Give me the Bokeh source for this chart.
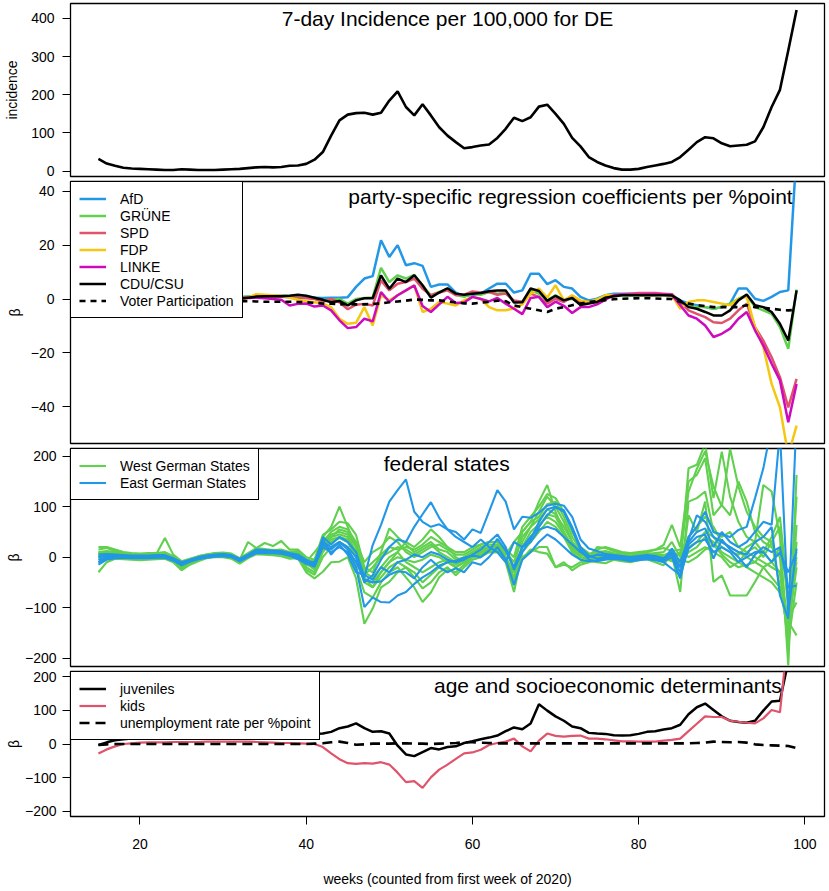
from bokeh.plotting import figure
from bokeh.models import Range1d, FixedTicker, Label, Legend, LegendItem
from bokeh.layouts import column
from bokeh.embed import file_html
from bokeh.resources import INLINE

FONT = "Liberation Sans"

# ---------------- data ----------------
weeks = list(range(15, 100))

incidence = [32, 20, 14, 9, 7, 6, 5, 4, 3, 3, 5, 4, 3, 3, 3, 4, 5, 6, 8, 10,
             11, 10, 11, 14, 15, 19, 30, 50, 93, 133, 148, 152, 153, 148, 153,
             185, 209, 168, 146, 175, 146, 115, 93, 76, 60, 63, 67, 70, 87, 111,
             140, 131, 141, 169, 174, 150, 124, 87, 65, 37, 24, 15, 8, 4, 4,
             6, 11, 15, 19, 24, 37, 56, 76, 89, 86, 73, 65, 67, 69, 78,
             115, 168, 213, 316, 422]

afd = [0.5, 0.3, 0.2, 0.1, 0.0, 0.2, 0.3, 0.1, 0.0, 0.2, 0.3, 0.2, 0.4, 0.5, 0.3,
       0.2, 0.4, 0.5, 0.8, 1.0, 1.2, 1.3, 1.2, 1.0, 0.8, 0.6, 0.5, 0.4, 0.5, 0.5,
       0.7, 4.5, 7.6, 8.5, 21.8, 15.6, 20.0, 12.5, 13.3, 12.3, 4.5, 5.4, 5.4, 2.4, 1.1,
       1.5, 2.0, 3.9, 5.7, 5.7, 2.4, 3.2, 9.4, 9.4, 5.5, 7.0, 4.5, 3.9, 0.8, -0.5,
       0.1, 1.4, 2.0, 2.0, 2.0, 2.0, 2.0, 1.8, 1.6, 1.4, -0.5, -1.7, -2.3, -3.0, -3.6,
       -3.0, -1.7, 3.9, 3.9, 0.1, -0.7, 0.8, 2.6, 3.2, 55]
gruene = [0.3, 0.2, 0.1, 0.0, 0.1, 0.2, 0.1, 0.0, 0.2, 0.3, 0.4, 0.3, 0.5, 0.6, 0.5,
          0.4, 0.6, 0.8, 0.9, 1.0, 1.1, 1.2, 1.2, 1.1, 1.0, 0.8, 0.5, -0.5, -0.3, 0.0,
          -1.7, 0.0, 0.4, 0.6, 11.6, 6.3, 8.8, 7.6, 9.0, 5.0, 1.4, 2.6, 3.8, 1.6, 0.8,
          2.0, 1.6, 2.6, 2.0, 2.4, -1.1, -1.1, 3.2, 2.0, -0.5, 1.4, -0.4, 0.1, -1.7, -1.5,
          -0.5, 0.7, 1.0, 1.4, 1.4, 1.4, 1.4, 1.5, 1.7, 1.7, -1.7, -2.3, -3.0, -3.0, -3.6,
          -3.0, -1.7, 0.1, 1.4, -3.0, -4.2, -5.5, -10.4, -18.5, 3.5]
spd = [0.2, 0.1, 0.0, -0.1, 0.0, 0.1, 0.2, 0.0, 0.1, 0.2, 0.3, 0.2, 0.4, 0.5, 0.4,
       0.3, 0.5, 0.6, 0.7, 0.8, 0.9, 0.9, 0.8, 0.7, 0.5, 0.3, 0.0, -1.0, 0.0, -1.2,
       -3.8, -2.1, -1.8, -2.4, 6.9, 3.2, 5.7, 6.3, 7.6, 3.8, 1.4, 2.4, 3.2, 1.4, 1.6,
       2.8, 2.4, 2.6, 1.6, 2.0, -0.5, -1.0, 2.0, 0.8, -1.7, 0.1, -1.1, 0.8, -1.1, -1.1,
       -0.5, 0.5, 1.0, 1.8, 2.0, 2.2, 2.2, 2.2, 2.0, 1.8, -1.1, -4.2, -5.5, -6.7, -8.6,
       -8.9, -7.3, -4.2, -1.7, -10.4, -15.4, -21.6, -29.0, -40.2, -29.6]
fdp = [0.0, -0.3, -0.5, -0.2, 0.0, 0.3, 0.5, 0.2, 0.0, 0.3, 0.5, 0.3, 0.6, 0.8, 0.4,
       0.2, 0.0, -0.2, 0.5, 1.8, 1.6, 1.4, 1.2, 0.5, -0.3, -0.8, -1.2, -1.7, -3.0, -7.3,
       -9.2, -8.8, -3.0, -9.8, 1.4, -0.5, 1.4, 3.2, 5.1, -4.8, -3.6, -1.1, -1.7, -2.4, -0.5,
       0.8, 0.1, -3.0, -4.2, -4.2, -3.5, -2.0, 2.0, 3.9, 0.5, 5.1, -0.5, 1.4, -0.5, -1.1,
       -0.2, 1.4, 1.5, 1.6, 1.6, 1.6, 1.5, 1.5, 1.5, 1.4, -3.6, -1.1, -0.5, -0.5, -1.1,
       -1.7, -2.3, 0.1, 0.8, -10.4, -17.8, -31.5, -40.2, -58, -47]
linke = [-0.2, -0.3, -0.2, 0.0, 0.1, 0.0, -0.2, -0.3, 0.0, 0.2, 0.0, -0.3, 0.2, 0.5, 0.3,
         0.0, 0.2, 0.3, 0.4, 0.5, 0.3, 0.0, -0.3, -2.4, -1.8, -1.7, -2.8, -2.4, -4.2, -7.9,
         -10.8, -10.4, -7.3, -8.3, 2.6, -1.1, 1.4, 3.2, 5.0, -2.6, -4.8, -2.0, 0.8, -1.5, -1.3,
         0.8, 0.0, -0.9, 0.4, -1.7, -3.6, -5.6, 0.4, 0.8, -3.0, -1.0, -2.5, -5.2, -3.0, -3.0,
         -2.0, -0.2, 1.4, 1.7, 1.7, 1.7, 1.8, 1.8, 1.7, 1.6, -2.3, -6.1, -7.3, -9.8, -14.1,
         -12.9, -11.0, -7.3, -4.8, -11.6, -17.2, -24.0, -30.2, -45.7, -31.5]
cdu = [0.0, 0.2, -0.2, 0.0, 0.3, 0.5, 0.3, 0.1, 0.2, 0.4, 0.3, 0.5, 0.7, 0.4, 0.2,
       0.0, 0.3, 0.1, 0.5, 0.9, 1.0, 1.0, 1.0, 1.2, 1.6, 1.2, 0.5, -0.3, -1.2, -0.7,
       -2.4, -0.5, 0.3, 0.3, 8.8, 3.8, 7.6, 6.3, 8.8, 5.1, 0.5, 2.4, 4.0, 2.0, 1.6,
       2.0, 2.2, 2.9, 3.2, 3.2, -1.3, -1.2, 3.9, 3.0, -0.7, 1.2, -0.5, 0.4, -2.2, -1.7,
       -1.1, 0.5, 1.0, 1.4, 1.4, 1.4, 1.4, 1.4, 1.4, 1.3, -0.5, -3.0, -3.6, -4.8, -6.1,
       -6.1, -4.2, -0.5, 1.7, -2.3, -3.0, -4.8, -9.2, -15.4, 3.2]
voter = [0.0, 0.0, -0.1, -0.1, -0.2, -0.2, -0.3, -0.3, -0.4, -0.4, -0.5, -0.5, -0.5, -0.6, -0.6,
         -0.7, -0.7, -0.8, -0.8, -0.9, -1.0, -1.0, -1.0, -1.0, -1.1, -1.2, -1.4, -1.7, -1.7, -2.0,
         -1.8, -2.0, -2.0, -1.8, -1.7, -1.2, -0.9, -0.6, -0.2, -0.3, -0.5, -0.5, -0.9, -1.3, -1.6,
         -1.7, -1.3, -1.1, -0.6, -0.8, -2.4, -3.0, -3.6, -4.2, -4.8, -3.6, -3.0, -2.3, -1.7, -1.1,
         -0.8, -0.4, -0.1, 0.1, 0.2, 0.3, 0.3, 0.2, 0.1, 0.0, -1.1, -1.7, -2.3, -2.6, -3.0,
         -3.0, -3.0, -3.0, -2.3, -3.0, -3.2, -3.6, -4.0, -4.2, -4.0]

west_states = [
    [15, 18, 12, 8, 6, 5, 6, 7, 38, 5, -8, -3, 2, 5, 8, 9, 7, -2, 8, 18, 16, 14, 15, 10,
     12, -5, -10, 40, 60, 100, 60, 20, -40, -60, -30, -10,
     10, 30, 20, 35, 55, 40, 20, 0, -10, 5, 10, 15,
     20, 5, 30, 50, 70, 110, 143, 90, 50, 20, 5, 0,
     5, 8, 5, 3, 0, 2, 5, 8, 10,
     30, 0, 130, 175, 210, 140, 100, 215, 140, 90, 60, 40, 30, -60, -150, 120],
    [20, 20, 15, 10, 8, 7, 8, 8, 10, 2, -10, -5, 0, 4, 7, 8, 6, -5, 30, 18, 28, 22, 32, 15,
     15, 0, -5, 44, 55, 70, 67, 44, -20, -30, 10, 57,
     40, 25, 10, 20, 30, 15, 10, -5, 0, 10, 20, 25,
     25, 0, -56, 30, 60, 90, 120, 100, 70, 30, 10, 5,
     10, 12, 8, 5, 3, 5, 8, 6, 4,
     10, -20, 176, 183, 225, 117, 209, 120, 70, 40, 30, 143, 130, 40, -215, 163],
    [10, 12, 10, 7, 5, 4, 5, 6, 8, 0, -12, -6, 1, 5, 7, 8, 5, -4, 6, 15, 14, 12, 13, 8,
     8, -10, 10, 30, 50, 60, 55, 30, -10, 10, 20, 40,
     30, 10, 0, 10, 20, 25, 15, 5, 5, 15, 25, 30,
     30, 10, -20, 50, 70, 80, 105, 110, 80, 40, 15, 5,
     15, 20, 15, 10, 8, 10, 12, 15, 24,
     64, 20, 150, 163, 196, 83, 103, 83, 150, 110, 50, 30, 20, 0, -188, 64],
    [5, 8, 6, 5, 3, 2, 3, 4, 5, -3, -15, -8, -1, 3, 5, 6, 3, -7, 3, 12, 12, 10, 10, 5,
     5, -15, -20, 20, 40, 45, 40, 10, -30, -40, -20, 0,
     10, -10, -20, -30, -20, -10, -5, -15, -5, 5, 10, 20,
     20, 0, -40, 20, 40, 60, 85, 80, 50, 20, 0, -5,
     0, 3, 2, 0, -3, 0, 2, 0, -5,
     5, -69, 110, 117, 130, 50, 40, 50, 20, 10, 0, -10, -20, -30, -128, -155],
    [0, 3, 3, 2, 1, 0, 1, 2, 3, -5, -18, -10, -3, 2, 4, 4, 1, -10, 2, 10, 10, 8, 8, 3,
     2, -20, -30, 10, 30, 38, 30, 0, -50, -60, -40, -20,
     -10, -20, -40, -62, -50, -30, -20, -36, -20, -5, 0, 10,
     10, -10, -69, 10, 30, 50, 70, 60, 40, 10, -5, -10,
     -5, -2, 0, -2, -5, -3, -1, -4, -8,
     0, -42, 83, 50, 110, -49, -36, -76, -76, -76, -49, -20, -10, 20, -160, 30],
    [-5, 0, 1, 0, -1, -2, -1, 0, 1, -7, -20, -11, -4, 1, 3, 3, 0, -11, 1, 9, 8, 7, 6, 0,
     0, -25, -35, 0, 20, 30, 20, -20, -70, -80, -50, -30,
     -20, -40, -60, -89, -70, -40, -25, -30, -15, 0, 5, 15,
     15, -5, -30, 0, 10, 20, 20, -20, -10, -26, -15, -10,
     8, 10, 6, 4, 2, 4, 6, 4, 2,
     -5, 10, 40, 60, 80, 60, 30, 20, 10, 0, -10, -20, -40, -60, -140, -20],
    [-30, -10, -3, -4, -5, -6, -5, -4, -3, -10, -26, -15, -8, -2, 0, 0, -3, -13, -2, 6, 5, 4, 2, -3,
     -2, -30, -42, -29, -10, -9, 0, -42, -132, -102, -60, -49,
     -30, -20, -30, -50, -35, -20, -10, -20, -10, 0, 5, 10,
     10, -5, -45, -3, 15, 10, 7, -20, -15, -20, -10, -8,
     -10, -12, -5, -8, -10, -6, -4, -10, -16,
     8, 5, 20, 30, 50, 40, 20, 10, 5, 20, 30, 10, -10, -30, -170, -50],
    [8, 10, 8, 6, 4, 3, 4, 5, 6, -2, -13, -7, 0, 4, 6, 7, 4, -6, 4, 13, 13, 11, 11, 6,
     10, -8, -15, 25, 45, 50, 45, 20, -35, -20, 0, 10,
     20, 15, 5, 15, 25, 10, 0, -10, 0, 10, 15, 20,
     25, 10, -10, 40, 60, 75, 95, 85, 60, 30, 10, 0,
     3, 5, 3, 2, 0, 1, 3, 2, -2,
     -8, -10, 10, 20, 40, 30, 10, 0, -10, -20, -30, -40, -50, -70, -120, -90],
    [2, 5, 4, 3, 2, 1, 2, 3, 4, -4, -16, -9, -2, 3, 5, 5, 2, -8, 2, 11, 11, 9, 9, 4,
     3, -12, -25, 15, 35, 40, 35, 5, -45, -50, -30, -10,
     0, -5, -10, -5, 5, 0, -10, -20, -10, 0, 10, 15,
     15, 0, -30, 20, 50, 65, 80, 70, 45, 15, 0, -3,
     20, 18, 12, 8, 6, 8, 10, 14, 18,
     12, 15, 0, 10, 20, 10, 0, -20, -10, 10, 20, 0, 30, 60, -100, 0],
    [-10, -3, -1, -2, -3, -4, -3, -2, -1, -8, -22, -13, -6, 0, 2, 2, -1, -12, 0, 8, 7, 6, 5, 1,
     6, -5, -8, 35, 40, 55, 50, 25, -25, -10, 5, 20,
     15, 20, 15, 25, 40, 30, 20, 10, 10, 20, 25, 30,
     30, 15, 0, 60, 80, 100, 125, 117, 90, 50, 20, 8,
     -3, 0, 1, -1, -4, -2, 0, -2, -6,
     0, -5, -10, 0, 15, 25, 5, -10, -20, -15, -10, 10, 40, 80, -80, -10],
]

east_states = [
    [5, 6, 5, 4, 3, 3, 3, 4, 4, -2, -10, -5, 0, 3, 5, 6, 4, -3, 5, 15, 14, 13, 12, 8,
     5, -5, -15, 40, 25, 40, 30, 10, -40, 24, 64, 110,
     133, 154, 90, 70, 60, 65, 55, 50, 35, 55, 48, 90,
     133, 110, 55, 80, 78, 88, 102, 106, 102, 80, 35, 17,
     12, 6, 4, 2, 0, 2, 4, 2, -2,
     10, -20, 40, 60, 90, 50, 45, 40, 54, 60, 117, 176, 260, 320, 330, 300],
    [0, 3, 3, 2, 2, 1, 2, 2, 3, -4, -12, -6, -1, 2, 4, 5, 3, -5, 3, 12, 12, 11, 10, 6,
     2, -8, -10, 30, 20, 30, 20, 0, -50, -36, -5, 20,
     35, 30, 60, 85, 109, 78, 55, 40, 30, 20, 35, 20,
     10, -10, 30, 20, 30, 55, 60, 55, 40, 25, 10, 0,
     5, 3, 2, 0, -2, 0, 2, 0, -4,
     5, -30, 30, 50, 57, 20, 50, 30, 20, 30, 50, 70, 64, 250, -110, 17],
    [-5, 0, 1, 1, 0, 0, 0, 1, 1, -5, -14, -7, -2, 1, 3, 4, 2, -6, 2, 10, 11, 10, 9, 5,
     0, -10, -18, 20, 10, 20, 10, -20, -99, -80, -89, -90,
     -76, -69, -53, -40, -30, -17, -10, -7, -1, 3, 0, 13,
     36, 13, -20, 20, 40, 60, 83, 99, 93, 60, 20, 3,
     -3, 0, 1, -1, -3, -1, 1, -1, -5,
     17, -10, 35, 83, 70, 40, 30, 20, 10, 5, 30, 40, 60, -76, -122, 280],
    [-10, -2, 0, 0, -1, -1, -1, 0, 0, -6, -15, -8, -3, 0, 2, 3, 1, -7, 1, 9, 9, 9, 8, 4,
     -2, -12, -19, 25, 15, 30, 15, -10, -45, -50, -48, -35,
     -28, -30, -42, -20, -5, -20, -30, -22, -30, -10, -15, 0,
     20, -5, -55, -5, 10, 30, 45, 35, 20, 5, -5, -8,
     -6, -3, -2, -4, -6, -4, -2, -4, -8,
     0, -42, 25, 40, 45, -3, 35, 15, 0, -20, 5, 20, 10, 20, -60, -56],
    [-15, -5, -2, -1, -2, -2, -2, -1, -1, -7, -16, -9, -4, -1, 1, 2, 0, -8, 0, 8, 8, 8, 7, 3,
     -4, -13, -12, 35, 5, 25, 5, -30, -35, -45, -20, -30,
     -10, -5, 5, 0, 10, 5, -5, -10, -5, 5, 15, 30,
     45, 20, -25, 10, 35, 70, 95, 100, 90, 55, 15, -5,
     -8, -5, -3, -5, -8, -6, -4, -6, -10,
     -23, -35, 17, 30, 35, 10, 20, 10, -10, 0, 10, 10, -10, 10, -30, 10],
]

juveniles = [-3, 5, 11, 14, 16, 17, 18, 19, 20, 21, 21, 22, 22, 23, 23,
             24, 24, 24, 25, 25, 25, 26, 26, 26, 27, 27, 30, 31, 36, 47,
             52, 61, 47, 36, 38, 31, -5, -31, -36, -24, -12, -16, -9, -7, 3,
             8, 14, 19, 25, 38, 49, 44, 61, 118, 99, 82, 69, 52, 47, 33,
             31, 30, 26, 25, 26, 30, 36, 38, 43, 47, 57, 88, 109, 120, 101,
             82, 69, 65, 63, 69, 99, 126, 128, 245, 320]
kids = [-28, -16, -7, 0, 2, 4, 5, 5, 5, 6, 6, 6, 6, 7, 7,
        7, 7, 7, 7, 6, 5, 4, 3, 3, 2, 1, 0, -9, -28, -45,
        -57, -59, -57, -58, -54, -61, -85, -113, -110, -130, -99, -76, -61, -44, -28,
        -25, -17, -3, 3, 7, 16, -7, -22, 10, 31, 24, 22, 24, 25, 16,
        16, 14, 11, 8, 8, 7, 7, 7, 10, 12, 16, 38, 60, 82, 80,
        80, 69, 66, 63, 61, 76, 101, 94, 330, 360]
unemployment = [-3, -1, 0, 0, 0, 0, 0, 0, 0, 0, 0, 0, 0, 0, 0,
                0, 0, 0, 0, 0, 0, 0, 0, 0, 0, 0, 1, 2, 5, 7,
                3, -2, -1, 1, 1, 1, 2, 2, 1, 1, 0, 1, 2, 3, 5,
                5, 4, 3, 2, 2, 2, 2, 2, 2, 2, 2, 2, 2, 2, 2,
                2, 2, 2, 2, 2, 2, 2, 2, 2, 2, 2, 2, 3, 4, 7,
                6, 5, 6, 4, -1, -3, -4, -5, -6, -12]

x_ticks = [20, 40, 60, 80, 100]

# ---------------- styling helpers ----------------
X0, X1 = 11.64, 102.36
x_range = Range1d(X0, X1)
LEFT = 70


def make_fig(height, yr, ticks, top, bottom, ylabel, tick_standoff, label_standoff, with_x=False):
    p = figure(width=829, height=height, x_range=x_range, y_range=Range1d(*yr),
               output_backend="svg", toolbar_location=None,
               x_axis_location="below" if with_x else None,
               min_border_left=LEFT, min_border_right=5,
               min_border_top=top, min_border_bottom=bottom)
    p.xgrid.visible = False
    p.ygrid.visible = False
    p.outline_line_color = "black"
    p.outline_line_width = 1.3
    p.outline_line_alpha = 1
    p.background_fill_color = "white"
    p.border_fill_color = "white"
    ax = p.yaxis[0]
    ax.ticker = FixedTicker(ticks=ticks)
    ax.axis_line_color = None
    ax.major_tick_out = 8
    ax.major_tick_in = 0
    ax.minor_tick_out = 0
    ax.minor_tick_in = 0
    ax.major_tick_line_color = "black"
    ax.major_label_standoff = tick_standoff
    ax.major_label_text_font = FONT
    ax.major_label_text_font_size = "14px"
    ax.major_label_text_color = "black"
    ax.axis_label = ylabel
    ax.axis_label_text_font = FONT
    ax.axis_label_text_font_size = "14px"
    ax.axis_label_text_font_style = "normal"
    ax.axis_label_text_color = "black"
    ax.axis_label_standoff = label_standoff
    if with_x:
        xa = p.xaxis[0]
        xa.ticker = FixedTicker(ticks=x_ticks)
        xa.axis_line_color = None
        xa.major_tick_out = 8
        xa.major_tick_in = 0
        xa.minor_tick_out = 0
        xa.minor_tick_in = 0
        xa.major_tick_line_color = "black"
        xa.major_label_standoff = 14
        xa.major_label_text_font = FONT
        xa.major_label_text_font_size = "14px"
        xa.major_label_text_color = "black"
        xa.axis_label = "weeks (counted from first week of 2020)"
        xa.axis_label_text_font = FONT
        xa.axis_label_text_font_size = "14px"
        xa.axis_label_text_font_style = "normal"
        xa.axis_label_text_color = "black"
        xa.axis_label_standoff = 19
    return p


def title(p, text, x, y):
    p.add_layout(Label(x=x, y=y, text=text, text_align="center", text_baseline="middle",
                       text_font=FONT, text_font_size="21px", text_color="black"))


def legend(p, items):
    lg = Legend(items=[LegendItem(label=l, renderers=[r]) for l, r in items],
                location="top_left", margin=0, padding=8, spacing=0,
                border_line_color="black", border_line_width=1.3, border_line_alpha=1,
                background_fill_color="white", background_fill_alpha=1,
                label_text_font=FONT, label_text_font_size="14px", label_text_color="black",
                label_height=17, glyph_height=17, glyph_width=27, label_standoff=14)
    p.add_layout(lg)


# ---------------- panel 1 ----------------
p1 = make_fig(178, (-14, 439), [0, 100, 200, 300, 400], 3, 2, "incidence", 8, 8)
p1.line(weeks, incidence, line_color="black", line_width=2.6)
title(p1, "7-day Incidence per 100,000 for DE", 57.0, 400)

# ---------------- panel 2 ----------------
p2 = make_fig(267, (-53.6, 43.6), [-40, -20, 0, 20, 40], 3, 2, "β", 8, 5)
party_series = [("AfD", afd, "#2297E6"), ("GRÜNE", gruene, "#61D04F"),
                ("SPD", spd, "#DF536B"), ("FDP", fdp, "#F5C710"),
                ("LINKE", linke, "#CD0BBC"), ("CDU/CSU", cdu, "black")]
items2 = []
for name, vals, col in party_series:
    r = p2.line(weeks, vals, line_color=col, line_width=2.5)
    items2.append((name, r))
rv = p2.line(weeks, voter, line_color="black", line_width=2.6, line_dash="6 5")
items2.append(("Voter Participation", rv))
legend(p2, items2)
title(p2, "party-specific regression coefficients per %point", 71.8, 37.9)

# ---------------- panel 3 ----------------
p3 = make_fig(223, (-216.7, 215.3), [-200, -100, 0, 100, 200], 3, 2, "β", 6, 0)
west_r = [p3.line(weeks, s, line_color="#61D04F", line_width=2.1) for s in west_states]
east_r = [p3.line(weeks, s, line_color="#2297E6", line_width=2.1) for s in east_states]
legend(p3, [("West German States", west_r[0]), ("East German States", east_r[0])])
title(p3, "federal states", 56.9, 186)

# ---------------- panel 4 ----------------
p4 = make_fig(221, (-215, 215), [-200, -100, 0, 100, 200], 3, 66, "β", 6, 0, with_x=True)
rj = p4.line(weeks, juveniles, line_color="black", line_width=2.5)
rk = p4.line(weeks, kids, line_color="#DF536B", line_width=2.2)
ru = p4.line(weeks, unemployment, line_color="black", line_width=2.6, line_dash="10 6")
legend(p4, [("juveniles", rj), ("kids", rk), ("unemployment rate per %point", ru)])
title(p4, "age and socioeconomic determinants", 76.3, 173)

layout = column(p1, p2, p3, p4, spacing=0)

open("out.html", "w").write(file_html(layout, INLINE))
